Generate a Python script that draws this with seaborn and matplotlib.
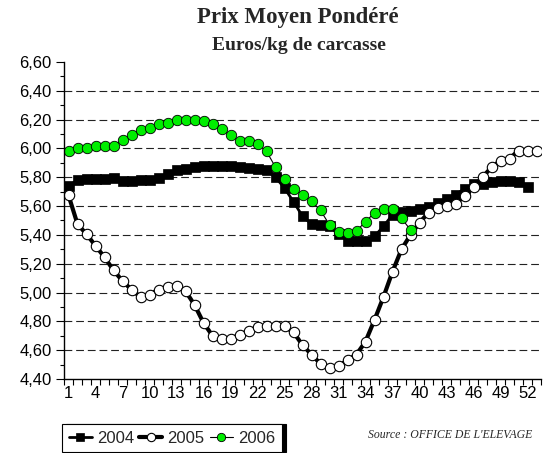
import numpy as np
import pandas as pd
import seaborn as sns
import matplotlib.pyplot as plt
from matplotlib.ticker import FixedLocator, FuncFormatter

# === data ===
weeks_2004 = list(range(1, 53))
prix_2004 = [5.74, 5.78, 5.785, 5.79, 5.79, 5.795, 5.775, 5.775, 5.78, 5.78,
             5.795, 5.825, 5.85, 5.86, 5.87, 5.875, 5.88, 5.88, 5.88, 5.87,
             5.865, 5.86, 5.85, 5.80, 5.725, 5.63, 5.53, 5.475, 5.47, 5.46,
             5.405, 5.36, 5.36, 5.36, 5.39, 5.46, 5.54, 5.56, 5.565, 5.58,
             5.595, 5.62, 5.65, 5.68, 5.72, 5.75, 5.755, 5.77, 5.775, 5.775,
             5.77, 5.73]

weeks_2005 = list(range(1, 54))
prix_2005 = [5.675, 5.475, 5.405, 5.325, 5.245, 5.155, 5.08, 5.02, 4.97, 4.985,
             5.02, 5.04, 5.045, 5.01, 4.915, 4.79, 4.70, 4.675, 4.68, 4.705,
             4.735, 4.76, 4.77, 4.77, 4.765, 4.725, 4.635, 4.57, 4.505, 4.475,
             4.49, 4.53, 4.57, 4.66, 4.81, 4.97, 5.145, 5.30, 5.40, 5.485,
             5.555, 5.59, 5.60, 5.615, 5.67, 5.73, 5.80, 5.87, 5.915, 5.93,
             5.985, 5.985, 5.985]

weeks_2006 = list(range(1, 40))
prix_2006 = [5.985, 6.00, 6.005, 6.015, 6.02, 6.02, 6.06, 6.095, 6.13, 6.14,
             6.17, 6.18, 6.195, 6.195, 6.195, 6.19, 6.17, 6.135, 6.09, 6.05,
             6.05, 6.03, 5.98, 5.87, 5.785, 5.72, 5.68, 5.635, 5.57, 5.47,
             5.42, 5.415, 5.43, 5.49, 5.555, 5.58, 5.58, 5.515, 5.435]

week_labels = list(range(1, 53, 3))
y_ticks = [4.40, 4.60, 4.80, 5.00, 5.20, 5.40, 5.60, 5.80, 6.00, 6.20, 6.40, 6.60]

df = pd.concat([
    pd.DataFrame({"Semaine": weeks_2004, "Prix": prix_2004, "Annee": "2004"}),
    pd.DataFrame({"Semaine": weeks_2005, "Prix": prix_2005, "Annee": "2005"}),
    pd.DataFrame({"Semaine": weeks_2006, "Prix": prix_2006, "Annee": "2006"}),
])

# === style ===
sns.set_theme(style="white")
plt.rcParams["font.family"] = ["Liberation Sans", "DejaVu Sans"]

fig, ax = plt.subplots(figsize=(5.45, 4.53), dpi=100)
fig.subplots_adjust(left=64 / 545, right=541 / 545, top=1 - 62 / 453, bottom=1 - 379 / 453)

styles = {
    "2004": dict(color="black", linewidth=2.0, marker="s", markersize=6.5,
                 markerfacecolor="black", markeredgecolor="black", markeredgewidth=0.5),
    "2005": dict(color="black", linewidth=3.0, marker="o", markersize=7.5,
                 markerfacecolor="white", markeredgecolor="black", markeredgewidth=0.8),
    "2006": dict(color="black", linewidth=0.8, marker="o", markersize=7.5,
                 markerfacecolor="#00ee00", markeredgecolor="black", markeredgewidth=0.6),
}

for annee, kw in styles.items():
    sns.lineplot(data=df[df["Annee"] == annee], x="Semaine", y="Prix",
                 label=annee, ax=ax, **kw)

# === axes ===
ax.set_xlim(0.5, 53.5)
ax.set_ylim(4.40, 6.60)
ax.set_xlabel("")
ax.set_ylabel("")

ax.xaxis.set_major_locator(FixedLocator(week_labels))
ax.xaxis.set_minor_locator(FixedLocator(np.arange(0.5, 54, 1)))
ax.tick_params(axis="x", which="major", length=0, labelsize=12, pad=5, colors="black")
ax.tick_params(axis="x", which="minor", bottom=True, length=4, width=0.8, direction="out", color="black")

ax.yaxis.set_major_locator(FixedLocator(y_ticks))
ax.yaxis.set_minor_locator(FixedLocator(np.arange(4.50, 6.60, 0.2)))
ax.yaxis.set_major_formatter(FuncFormatter(lambda v, p: f"{v:.2f}".replace(".", ",")))
ax.tick_params(axis="y", which="major", left=True, length=6, width=0.8, labelsize=12, pad=3, colors="black")
ax.tick_params(axis="y", which="minor", left=True, length=3, width=0.8, color="black")

for y in y_ticks[1:-1]:
    ax.axhline(y, color="#222222", linestyle=(0, (7, 3.5)), linewidth=0.8, zorder=0)

sns.despine(ax=ax)
for s in ["left", "bottom"]:
    ax.spines[s].set_color("black")
    ax.spines[s].set_linewidth(1.0)

# === titles ===
fig.text(298 / 545, 1 - 18 / 453, "Prix Moyen Pondéré", ha="center", va="center",
         fontsize=16.5, fontweight="bold", family="Liberation Serif")
fig.text(299 / 545, 1 - 45 / 453, "Euros/kg de carcasse", ha="center", va="center",
         fontsize=14, fontweight="bold", family="Liberation Serif")

# === legend ===
handles, labels = ax.get_legend_handles_labels()
ax.legend_.remove()
leg = fig.legend(handles, labels, loc="upper left", bbox_to_anchor=(62 / 545, 1 - 424 / 453),
                 borderaxespad=0, ncol=3, fontsize=12, handlelength=1.4, handletextpad=0.3,
                 columnspacing=0.3, frameon=True, fancybox=False, borderpad=0.4, markerscale=0.8,
                 shadow={"color": "black", "alpha": 1.0, "ox": 3, "oy": 0})
leg.get_frame().set_edgecolor("black")
leg.get_frame().set_linewidth(0.8)

fig.text(368 / 545, 1 - 435 / 453, "Source : OFFICE DE L'ELEVAGE", ha="left", va="center",
         fontsize=8.5, style="italic", family="Liberation Serif")

plt.savefig("out.png", dpi=100)
